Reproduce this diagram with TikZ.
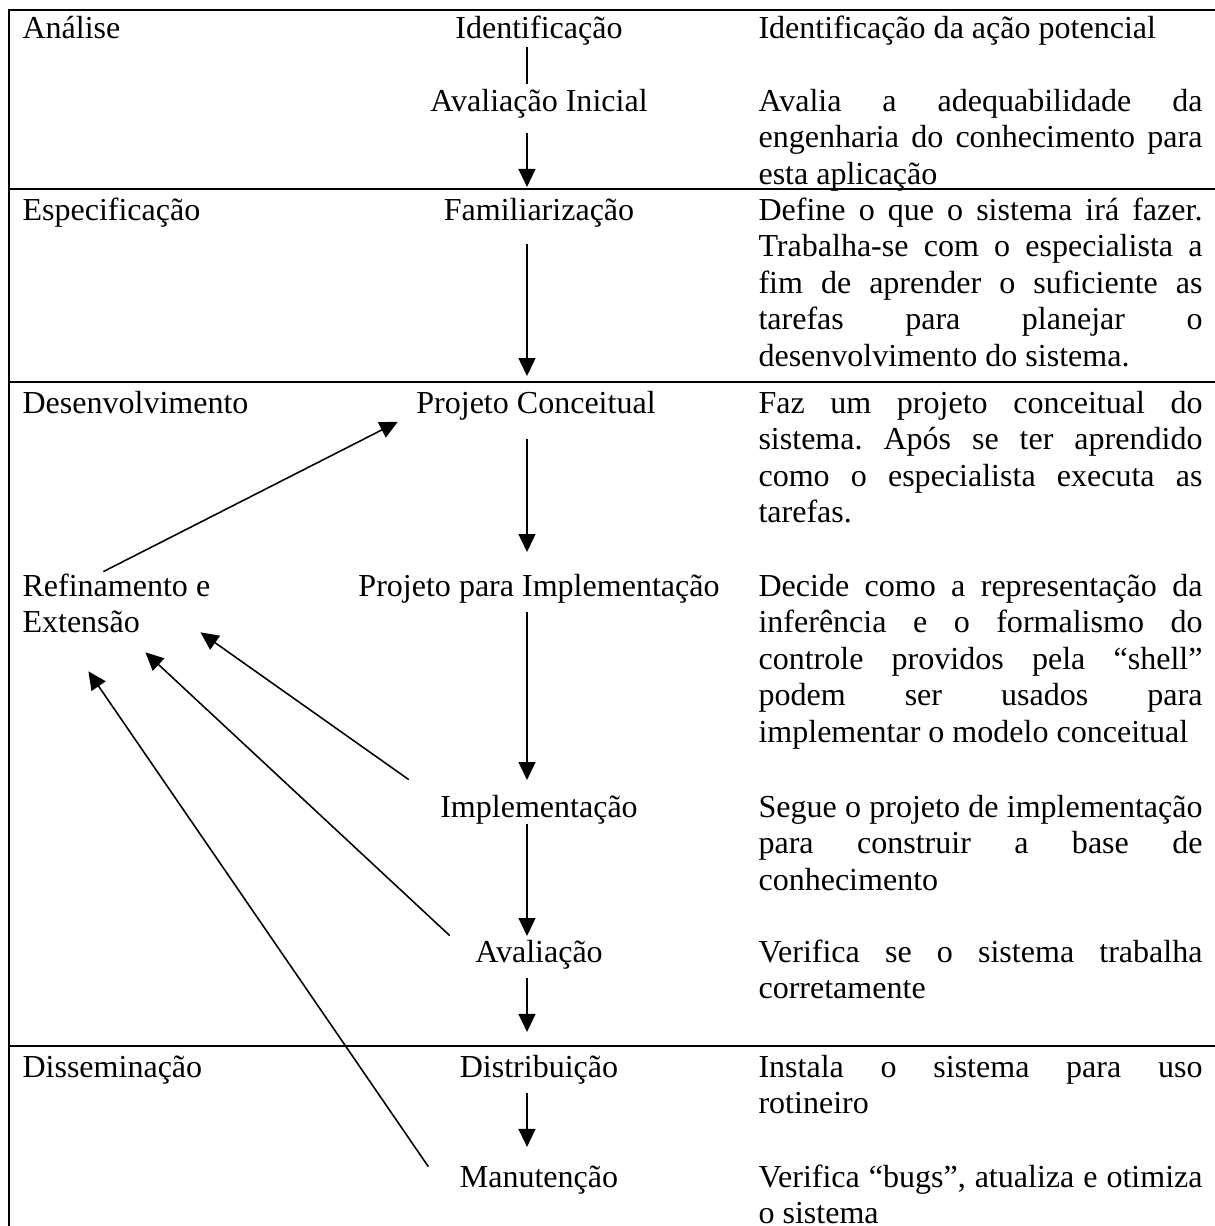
\documentclass[tikz,border=0pt]{standalone}
\usepackage{fontspec}
\setmainfont{Liberation Serif}
\usetikzlibrary{arrows.meta,calc}

\newlength{\colw}
\setlength{\colw}{170.5pt}
\newcommand{\jl}[1]{\makebox[\colw][s]{#1}}

\begin{document}
\frenchspacing
\begin{tikzpicture}[
		x=0.384pt, y=-0.384pt,
		font=\fontsize{12.3}{14.05}\selectfont,
		rule/.style={line width=0.75pt},
		lbl/.style={inner sep=0pt, text height=8.4pt, text depth=2.4pt},
		phase/.style={lbl, anchor=base west},
		stage/.style={lbl, anchor=base},
		desc/.style={inner sep=0pt, anchor=base west},
		link/.style={line width=0.6pt},
		arr/.style={link, -{Triangle[length=6.9pt,width=6.5pt]}},
	]
		\useasboundingbox (0,0) rectangle (1215,1226);

		\draw[rule] (9,1240) -- (9,10) -- (1230,10);
		\foreach \y in {189,382,1046}
			\draw[rule] (9,\y) -- (1230,\y);

		\coordinate (axis) at (527,0);

		\node (analise) [phase] at (22,38) {Análise};
		\node (espec) [phase] at (22,220) {Especificação};
		\node (desenv) [phase] at (22,413) {Desenvolvimento};
		\node (refin) [phase] at (22,596) {Refinamento e};
		\node (ext) [phase] at (22,632.6) {Extensão};
		\node (dissem) [phase] at (22,1077) {Disseminação};

		\node (ident) [stage] at (539,38) {Identificação};
		\node (avini) [stage] at (539,111) {Avaliação Inicial};
		\node (famil) [stage] at (539,220) {Familiarização};
		\node (projconc) [stage] at (536,413) {Projeto Conceitual};
		\node (ppi) [stage] at (539,596) {Projeto para Implementação};
		\node (impl) [stage] at (539,817) {Implementação};
		\node (aval) [stage] at (539,962) {Avaliação};
		\node (dist) [stage] at (539,1077) {Distribuição};
		\node (man) [stage] at (539,1187) {Manutenção};

		\node (d ident) [desc] at (758,38) {Identificação da ação potencial};
		\node (d avini) [desc] at (758,111) {\parbox[t]{\colw}{\jl{Avalia a adequabilidade da}\\
			\jl{engenharia do conhecimento para}\\
			esta aplicação}};
		\node (d famil) [desc] at (758,220) {\parbox[t]{\colw}{\jl{Define o que o sistema irá fazer.}\\
			\jl{Trabalha-se com o especialista a}\\
			\jl{fim de aprender o suficiente as}\\
			\jl{tarefas para planejar o}\\
			desenvolvimento do sistema.}};
		\node (d projconc) [desc] at (758,413) {\parbox[t]{\colw}{\jl{Faz um projeto conceitual do}\\
			\jl{sistema. Após se ter aprendido}\\
			\jl{como o especialista executa as}\\
			tarefas.}};
		\node (d ppi) [desc] at (758,596) {\parbox[t]{\colw}{\jl{Decide como a representação da}\\
			\jl{inferência e o formalismo do}\\
			\jl{controle providos pela “shell”}\\
			\jl{podem ser usados para}\\
			implementar o modelo conceitual}};
		\node (d impl) [desc] at (758,817) {\parbox[t]{\colw}{\jl{Segue o projeto de implementação}\\
			\jl{para construir a base de}\\
			conhecimento}};
		\node (d aval) [desc] at (758,962) {\parbox[t]{\colw}{\jl{Verifica se o sistema trabalha}\\
			corretamente}};
		\node (d dist) [desc] at (758,1077) {\parbox[t]{\colw}{\jl{Instala o sistema para uso}\\
			rotineiro}};
		\node (d man) [desc] at (758,1187) {\parbox[t]{\colw}{\jl{Verifica “bugs”, atualiza e otimiza}\\
			o sistema}};

		\draw[link, shorten <=1pt, shorten >=1.8pt] (ident.south -| axis) -- (avini.north -| axis);
		\foreach \a/\b/\s/\e in {avini/famil/5.7pt/4.1pt, famil/projconc/6.8pt/5.6pt,
				projconc/ppi/7.2pt/8.3pt, ppi/impl/3.7pt/5.6pt, impl/aval/0pt/1.4pt,
				aval/dist/3.4pt/8.7pt, dist/man/3.4pt/6.8pt}
			\draw[arr, shorten <=\s, shorten >=\e] (\a.south -| axis) -- (\b.north -| axis);

		\draw[arr] ($(refin.north)+(-13,-2)$) -- ($(projconc.south west)+(-18,2)$);
		\draw[arr] ($(impl.north west)+(-31,-15)$) -- ($(ext.south east)+(60,-7)$);
		\draw[arr] ($(aval.north west)+(-25,-4)$) -- ($(ext.south east)+(5,13)$);
		\draw[arr] ($(man.north west)+(-31,2)$) -- ($(ext.south east)+(-52,32)$);
	\end{tikzpicture}
\end{document}
